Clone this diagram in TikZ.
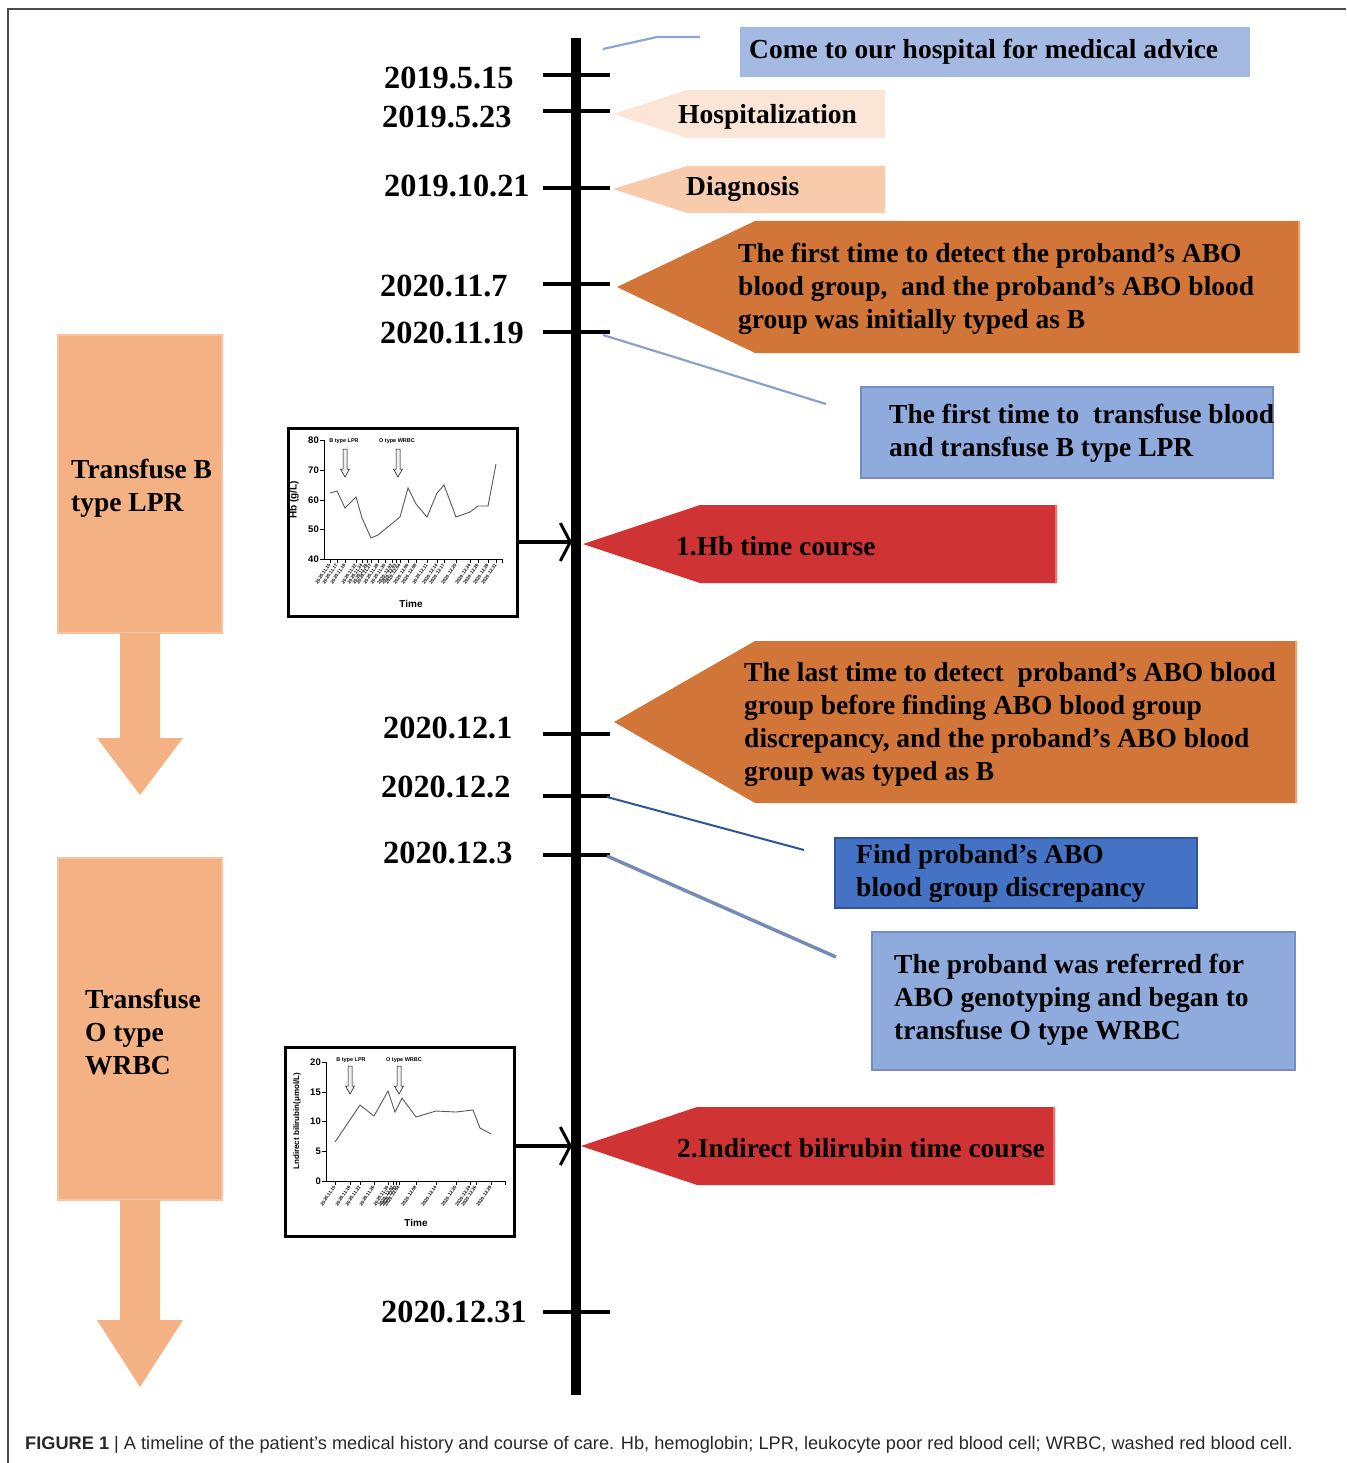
\documentclass[tikz,border=0pt]{standalone}
\usepackage{fontspec}
\setmainfont{Liberation Serif}
\newfontfamily\capfont{Liberation Sans}
\usetikzlibrary{arrows.meta}
\definecolor{lblue}{RGB}{164,186,226}
\definecolor{mblue}{RGB}{143,170,220}
\definecolor{mbluebd}{RGB}{116,142,196}
\definecolor{dblue}{RGB}{68,114,196}
\definecolor{dbluebd}{RGB}{47,85,151}
\definecolor{peachA}{RGB}{251,229,214}
\definecolor{peachB}{RGB}{248,203,173}
\definecolor{orng}{RGB}{209,117,56}
\definecolor{orngL}{RGB}{240,160,110}
\definecolor{rd}{RGB}{207,51,51}
\definecolor{rdL}{RGB}{240,110,110}
\definecolor{salmon}{RGB}{244,177,131}
\definecolor{salmonL}{RGB}{247,195,160}
\definecolor{calloutc}{RGB}{140,165,212}
\definecolor{capc}{RGB}{40,40,40}
\newcommand\chartarrow[3]{%
  \draw[line width=0.5pt, fill=gray!12] ({#1-2},#2) -- ({#1+2},#2) -- ({#1+2},{#3-8}) -- ({#1+4.5},{#3-8}) -- (#1,#3) -- ({#1-4.5},{#3-8}) -- ({#1-2},{#3-8}) -- cycle;}
\begin{document}
\begin{tikzpicture}[x=1pt,y=-1pt,
  datelbl/.style={anchor=west, inner sep=0pt, font=\fontsize{32.3}{32}\selectfont\bfseries},
  boxtxt/.style={anchor=west, inner sep=0pt, align=left, font=\fontsize{27.5}{33}\selectfont\bfseries},
  tickmark/.style={line width=4pt},
  callout/.style={line width=2.2pt, draw=calloutc},
  chartbox/.style={draw, line width=3pt, inner sep=0pt, fill=white},
  axisln/.style={line width=1pt},
  datalnc/.style={line width=0.9pt, draw=black!65},
  ylab/.style={font=\capfont\bfseries\fontsize{9.5}{9.5}\selectfont, anchor=east, inner sep=1pt},
  xlab/.style={font=\capfont\bfseries\fontsize{4.6}{4.6}\selectfont, anchor=east, rotate=55, inner sep=0.5pt},
  smalllab/.style={font=\capfont\bfseries\fontsize{5.5}{5.5}\selectfont, inner sep=0pt},
  axtitle/.style={font=\capfont\bfseries\fontsize{10}{10}\selectfont, inner sep=0pt},
  tlarrow/.style={line width=4.5pt, -{Straight Barb[length=10pt,width=38pt,line width=3pt]}}
]
\useasboundingbox (0,0) rectangle (1346,1463);
% frame
\draw[line width=1.5pt, black!70] (8,1463) -- (8,9) -- (1346,9);

% timeline
\coordinate (tltop) at (576,38);
\coordinate (tlbot) at (576,1395);
\draw[line width=10pt] (tltop) -- (tlbot);
\foreach \yy in {75,111,188,284,332,734,796,855,1312}{
  \draw[tickmark] (543,\yy) -- (610,\yy);
}
% dates
\node[datelbl] (d1) at (384,78) {2019.5.15};
\node[datelbl] (d2) at (382,117) {2019.5.23};
\node[datelbl] (d3) at (384,186) {2019.10.21};
\node[datelbl] (d4) at (380,286) {2020.11.7};
\node[datelbl] (d5) at (380,333) {2020.11.19};
\node[datelbl] (d6) at (383,728) {2020.12.1};
\node[datelbl] (d7) at (381,787) {2020.12.2};
\node[datelbl] (d8) at (383,853) {2020.12.3};
\node[datelbl] (d9) at (381,1312) {2020.12.31};

% box 1
\fill[lblue] (740,27) rectangle (1250,77);
\node[boxtxt] (b1) at (749,52) {Come to our hospital for medical advice};
\coordinate (c1a) at (603,49);
\coordinate (c1b) at (657,37);
\coordinate (c1c) at (700,37);
\draw[callout] (c1a) -- (c1b) -- (c1c);

% hospitalization
\fill[peachA] (613,114) -- (687,90) -- (885,90) -- (885,138) -- (687,138) -- cycle;
\node[boxtxt] (b2) at (678,116.5) {Hospitalization};
% diagnosis
\fill[peachB] (613,189) -- (687,166) -- (885,166) -- (885,213) -- (687,213) -- cycle;
\node[boxtxt] (b3) at (686,188.5) {Diagnosis};

% orange 1
\fill[orng] (617,287) -- (755,221) -- (1300,221) -- (1300,353) -- (755,353) -- cycle;
\draw[orngL, line width=2.5pt] (1299,221) -- (1299,353);
\node[boxtxt] (b4) at (738,288.5) {The first time to detect the proband’s ABO\\blood group,\ \ and the proband’s ABO blood\\group was initially typed as B};

% blue box 5
\draw[fill=mblue, draw=mbluebd, line width=2pt] (861,387) rectangle (1273,478);
\node[boxtxt] (b5) at (889,433.5) {The first time to\ \ transfuse blood\\and transfuse B type LPR};
\coordinate (c2a) at (603,335);
\coordinate (c2b) at (826,404);
\draw[callout, draw=calloutc!90!gray] (c2a) -- (c2b);

% red 1
\fill[rd] (583,544) -- (700,505) -- (1057,505) -- (1057,583) -- (700,583) -- cycle;
\draw[rdL, line width=2.5pt] (1056,505) -- (1056,583);
\node[boxtxt] (b6) at (676,546.5) {1.Hb time course};

% orange 2
\fill[orng] (614,722) -- (755,641) -- (1297,641) -- (1297,803) -- (755,803) -- cycle;
\draw[orngL, line width=2.5pt] (1296,641) -- (1296,803);
\node[boxtxt] (b7) at (744,724.5) {The last time to detect\ \ proband’s ABO blood\\group before finding ABO blood group\\discrepancy, and the proband’s ABO blood\\group was typed as B};

% dark blue
\draw[fill=dblue, draw=dbluebd, line width=2pt] (835,838) rectangle (1197,908);
\node[boxtxt] (b8) at (856,873.5) {Find proband’s ABO\\blood group discrepancy};
\coordinate (c3a) at (607,797);
\coordinate (c3b) at (804,850);
\draw[line width=2pt, draw=dbluebd] (c3a) -- (c3b);

% blue box 10
\draw[fill=mblue, draw=mbluebd, line width=2pt] (872,932) rectangle (1295,1070);
\node[boxtxt] (b9) at (894,999.5) {The proband was referred for\\ABO genotyping and began to\\transfuse O type WRBC};
\coordinate (c4a) at (607,856);
\coordinate (c4b) at (836,957);
\draw[line width=3.5pt, draw=calloutc!85!black] (c4a) -- (c4b);

% red 2
\fill[rd] (581,1146) -- (697,1107) -- (1055,1107) -- (1055,1185) -- (697,1185) -- cycle;
\draw[rdL, line width=2.5pt] (1054,1107) -- (1054,1185);
\node[boxtxt] (b10) at (677,1148.5) {2.Indirect bilirubin time course};

% left boxes
\draw[fill=salmon, draw=salmonL, line width=2pt] (58,335) rectangle (222,633);
\node[boxtxt] (l1) at (71,488.5) {Transfuse B\\type LPR};
\fill[salmon] (120,633) -- (160,633) -- (160,738) -- (183,738) -- (140,795) -- (97,738) -- (120,738) -- cycle;
\draw[fill=salmon, draw=salmonL, line width=2pt] (58,858) rectangle (222,1200);
\node[boxtxt] (l2) at (85,1032.5) {Transfuse\\O type\\WRBC};
\fill[salmon] (120,1200) -- (160,1200) -- (160,1320) -- (183,1320) -- (140,1387) -- (97,1320) -- (120,1320) -- cycle;

% ---------- Hb chart ----------
\node[chartbox, minimum width=229pt, minimum height=188pt] (hbchart) at (402.5,522) {};
\draw[axisln] (324,440) -- (324,559) -- (502,559);
\foreach \yy/\lab in {440/80,470/70,500/60,529/50,559/40}{
  \draw[axisln] (320,\yy) -- (324,\yy);
  \node[ylab] at (320,\yy) {\lab};
}
\foreach \xx/\lab in {330/2020.11.15,337/2020.11.17,345/2020.11.19,356/2020.11.22,362/2020.11.24,367/2020.11.26,371/2020.11.27,378/2020.11.28,385/2020.11.30,392/2020.12.02,396/2020.12.03,400/2020.12.04,408/2020.12.06,416/2020.12.08,427/2020.12.11,437/2020.12.14,444/2020.12.17,456/2020.12.20,470/2020.12.24,478/2020.12.26,488/2020.12.29,496/2020.12.31}{
  \draw[line width=0.6pt] (\xx,559) -- (\xx,563);
  \node[xlab] at (\xx,564) {\lab};
}
\draw[axisln] (502,559) -- (502,563);
\draw[datalnc] (330,493) -- (337,491) -- (345,508) -- (356,497) -- (362,518) -- (371,538) -- (378,535) -- (400,517) -- (408,488) -- (416,504) -- (427,517) -- (437,493) -- (444,485) -- (456,517) -- (470,512) -- (478,506) -- (488,506) -- (496,464);
\node[smalllab] at (344,441) {B type LPR};
\node[smalllab] at (397,441) {O type WRBC};
\chartarrow{345}{449}{477}
\chartarrow{398}{449}{477}
\node[axtitle, rotate=90] at (294,500) {Hb (g/L)};
\node[axtitle] at (411,604) {Time};
\coordinate (hbtip) at (572,542);
\draw[tlarrow] (hbchart.east |- hbtip) -- (hbtip);

% ---------- bilirubin chart ----------
\node[chartbox, minimum width=229pt, minimum height=189pt] (bichart) at (399.5,1141.5) {};
\draw[axisln] (326,1062) -- (326,1181) -- (505,1181);
\foreach \yy/\lab in {1062/20,1092/15,1121/10,1151/5,1181/0}{
  \draw[axisln] (322,\yy) -- (326,\yy);
  \node[ylab] at (322,\yy) {\lab};
}
\foreach \xx/\lab in {335/2020.11.15,350/2020.11.19,360/2020.11.22,374/2020.11.26,388/2020.11.30,393/2020.12.02,396/2020.12.03,399/2020.12.04,416/2020.12.08,436/2020.12.14,456/2020.12.20,470/2020.12.24,476/2020.12.26,491/2020.12.29}{
  \draw[line width=0.6pt] (\xx,1181) -- (\xx,1185);
  \node[xlab] at (\xx,1186) {\lab};
}
\draw[axisln] (505,1181) -- (505,1185);
\draw[datalnc] (335,1142) -- (360,1105) -- (374,1116) -- (388,1091) -- (395,1112) -- (402,1098) -- (416,1117) -- (436,1111) -- (456,1112) -- (473,1110) -- (480,1128) -- (491,1134);
\node[smalllab] at (351,1060) {B type LPR};
\node[smalllab] at (404,1060) {O type WRBC};
\chartarrow{350}{1066}{1094}
\chartarrow{399}{1066}{1094}
\node[axtitle, rotate=90, font=\capfont\bfseries\fontsize{8}{8}\selectfont] at (297,1121) {Lndirect bilirubin(μmol/L)};
\node[axtitle] at (416,1223) {Time};
\coordinate (bitip) at (572,1146);
\draw[tlarrow] (bichart.east |- bitip) -- (bitip);

% caption
\node[anchor=west, inner sep=0pt, text=capc, font=\capfont\fontsize{18.2}{18.2}\selectfont] (cap) at (25,1445) {\textbf{FIGURE 1} | A timeline of the patient’s medical history and course of care. Hb, hemoglobin; LPR, leukocyte poor red blood cell; WRBC, washed red blood cell.};
\end{tikzpicture}
\end{document}
